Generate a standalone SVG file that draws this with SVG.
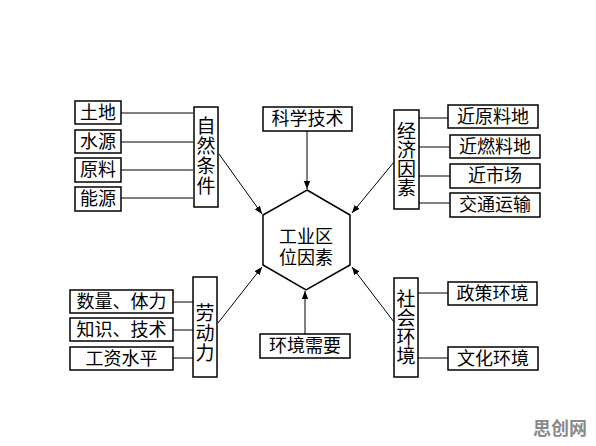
<svg xmlns="http://www.w3.org/2000/svg" width="596" height="446" viewBox="0 0 596 446">
<defs>
<marker id="ah" viewBox="0 0 10 10" refX="10" refY="5" markerWidth="8" markerHeight="8" markerUnits="userSpaceOnUse" orient="auto">
<path d="M0,1 L10,5 L0,9 Z" fill="#000"/>
</marker>
<style>
.box{fill:#fff;stroke:#000;stroke-width:1.5}
.t{font-family:"Liberation Serif","Noto Sans CJK SC",serif;font-size:18px;fill:#000;text-anchor:middle;dominant-baseline:central}
.v{font-family:"Liberation Serif","Noto Sans CJK SC",serif;font-size:19px;fill:#000;text-anchor:middle;dominant-baseline:central}
.h{font-family:"Liberation Serif","Noto Sans CJK SC",serif;font-size:18px;fill:#000;text-anchor:middle;dominant-baseline:central}
.ln{stroke:#000;stroke-width:1;fill:none}
.ar{stroke:#000;stroke-width:1;fill:none;marker-end:url(#ah)}
.wm{font-family:"Noto Sans CJK SC",sans-serif;font-size:18px;font-weight:bold;fill:#8a8a8a;text-anchor:middle;dominant-baseline:central}
</style>
</defs>
<rect width="596" height="446" fill="#fff"/>
<g id="connectors">
<line class="ln" x1="121" y1="113" x2="193" y2="113"/>
<line class="ln" x1="121" y1="142" x2="193" y2="142"/>
<line class="ln" x1="121" y1="170" x2="193" y2="170"/>
<line class="ln" x1="121" y1="198" x2="193" y2="198"/>
<line class="ln" x1="419" y1="118" x2="448" y2="118"/>
<line class="ln" x1="419" y1="147" x2="450" y2="147"/>
<line class="ln" x1="419" y1="176" x2="450" y2="176"/>
<line class="ln" x1="419" y1="203" x2="450" y2="203"/>
<line class="ln" x1="173" y1="302" x2="193" y2="302"/>
<line class="ln" x1="173" y1="330" x2="193" y2="330"/>
<line class="ln" x1="173" y1="358" x2="193" y2="358"/>
<line class="ln" x1="418" y1="293" x2="448" y2="293"/>
<line class="ln" x1="418" y1="358" x2="448" y2="358"/>
<line class="ar" x1="219" y1="154" x2="262" y2="214"/>
<line class="ar" x1="307" y1="131" x2="307" y2="189"/>
<line class="ar" x1="394" y1="162" x2="352" y2="213"/>
<line class="ar" x1="218" y1="323" x2="262" y2="267"/>
<line class="ar" x1="305" y1="334" x2="305" y2="291"/>
<line class="ar" x1="394" y1="322" x2="352" y2="267"/>
</g>
<g id="hub">
<polygon class="box" points="307,190 350,215 350,265 306,290 263,265 263,215"/>
<text class="h" x="306" y="237">工业区</text>
<text class="h" x="306" y="258">位因素</text>
</g>
<g id="n-tudi"><rect class="box" x="75" y="101" width="46" height="23"/><text class="t" x="98" y="112.5">土地</text></g>
<g id="n-shuiyuan"><rect class="box" x="75" y="130" width="46" height="23"/><text class="t" x="98" y="141.5">水源</text></g>
<g id="n-yuanliao"><rect class="box" x="75" y="158" width="46" height="24"/><text class="t" x="98" y="170">原料</text></g>
<g id="n-nengyuan"><rect class="box" x="75" y="187" width="46" height="24"/><text class="t" x="98" y="199">能源</text></g>
<g id="n-ziran"><rect class="box" x="194" y="107" width="24" height="100"/>
<text class="v" x="206" y="126">自</text><text class="v" x="206" y="146">然</text><text class="v" x="206" y="166">条</text><text class="v" x="206" y="186">件</text></g>
<g id="n-keji"><rect class="box" x="263" y="107" width="89" height="24"/><text class="t" x="307.5" y="119">科学技术</text></g>
<g id="n-jingji"><rect class="box" x="394" y="110" width="25" height="99"/>
<text class="v" x="406.5" y="131">经</text><text class="v" x="406.5" y="150">济</text><text class="v" x="406.5" y="169">因</text><text class="v" x="406.5" y="188">素</text></g>
<g id="n-jinyuanliao"><rect class="box" x="448" y="105" width="90" height="23"/><text class="t" x="493" y="116.5">近原料地</text></g>
<g id="n-jinranliao"><rect class="box" x="450" y="135" width="90" height="23"/><text class="t" x="495" y="146.5">近燃料地</text></g>
<g id="n-jinshichang"><rect class="box" x="450" y="164" width="90" height="24"/><text class="t" x="495" y="176">近市场</text></g>
<g id="n-jiaotong"><rect class="box" x="450" y="193" width="90" height="24"/><text class="t" x="495" y="205">交通运输</text></g>
<g id="n-shuliang"><rect class="box" x="70" y="290" width="103" height="23"/><text class="t" x="121.5" y="301.5">数量、体力</text></g>
<g id="n-zhishi"><rect class="box" x="70" y="318" width="103" height="23"/><text class="t" x="121.5" y="329.5">知识、技术</text></g>
<g id="n-gongzi"><rect class="box" x="70" y="347" width="103" height="23"/><text class="t" x="121.5" y="358.5">工资水平</text></g>
<g id="n-laodongli"><rect class="box" x="193" y="277" width="24" height="100"/>
<text class="v" x="205" y="313">劳</text><text class="v" x="205" y="333">动</text><text class="v" x="205" y="353">力</text></g>
<g id="n-huanjing"><rect class="box" x="260" y="334" width="90" height="24"/><text class="t" x="305" y="346">环境需要</text></g>
<g id="n-shehui"><rect class="box" x="394" y="278" width="24" height="99"/>
<text class="v" x="406" y="299">社</text><text class="v" x="406" y="318">会</text><text class="v" x="406" y="337">环</text><text class="v" x="406" y="356">境</text></g>
<g id="n-zhengce"><rect class="box" x="448" y="282" width="89" height="23"/><text class="t" x="492.5" y="293.5">政策环境</text></g>
<g id="n-wenhua"><rect class="box" x="448" y="347" width="90" height="23"/><text class="t" x="493" y="358.5">文化环境</text></g>
<text class="wm" x="560" y="427">思创网</text>
</svg>
